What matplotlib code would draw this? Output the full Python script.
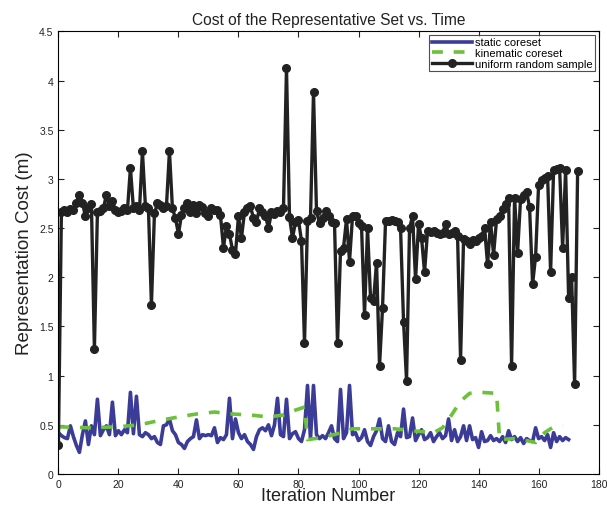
import matplotlib
matplotlib.use("Agg")
import matplotlib.pyplot as plt
from matplotlib.ticker import FuncFormatter

plt.rcParams['font.family'] = ['Liberation Sans', 'DejaVu Sans']

# uniform random sample, one value per iteration (0..173)
uniform = [0.30, 2.66, 2.68, 2.66, 2.69, 2.68, 2.76, 2.84, 2.76, 2.62,
           2.70, 2.74, 1.27, 2.66, 2.67, 2.70, 2.84, 2.72, 2.78, 2.68,
           2.66, 2.67, 2.70, 2.68, 3.11, 2.70, 2.72, 2.68, 3.28, 2.72,
           2.70, 1.72, 2.65, 2.75, 2.73, 2.70, 2.72, 3.28, 2.70, 2.60,
           2.44, 2.63, 2.70, 2.75, 2.66, 2.73, 2.65, 2.73, 2.71, 2.65,
           2.62, 2.70, 2.68, 2.68, 2.63, 2.30, 2.52, 2.44, 2.28, 2.24,
           2.62, 2.40, 2.66, 2.70, 2.72, 2.60, 2.56, 2.70, 2.66, 2.62,
           2.50, 2.66, 2.64, 2.67, 2.66, 2.70, 4.13, 2.61, 2.40, 2.56,
           2.58, 2.37, 1.33, 2.57, 2.60, 3.88, 2.67, 2.55, 2.60, 2.67,
           2.62, 2.56, 2.55, 1.33, 2.27, 2.30, 2.59, 2.16, 2.62, 2.62,
           2.55, 2.52, 1.62, 2.50, 1.79, 1.76, 2.15, 1.10, 1.69, 2.57,
           2.57, 2.58, 2.57, 2.56, 2.50, 1.55, 0.95, 2.50, 2.62, 1.98,
           2.54, 2.40, 2.05, 2.47, 2.46, 2.47, 2.45, 2.44, 2.45, 2.54,
           2.44, 2.45, 2.47, 2.42, 1.16, 2.39, 2.37, 2.34, 2.38, 2.37,
           2.40, 2.42, 2.50, 2.13, 2.56, 2.23, 2.59, 2.62, 2.69, 2.74,
           2.81, 1.10, 2.81, 2.25, 2.80, 2.84, 2.87, 2.71, 1.93, 2.21,
           2.94, 2.99, 3.01, 3.03, 2.05, 3.09, 3.10, 3.11, 2.30, 3.09,
           1.79, 2.00, 0.91, 3.08]

# static coreset, one value per iteration (0..170)
static = [0.42, 0.39, 0.37, 0.36, 0.49, 0.38, 0.29, 0.22, 0.40, 0.54,
          0.30, 0.49, 0.40, 0.76, 0.39, 0.45, 0.49, 0.40, 0.73, 0.39,
          0.44, 0.40, 0.45, 0.42, 0.83, 0.41, 0.79, 0.40, 0.38, 0.42,
          0.40, 0.36, 0.38, 0.32, 0.30, 0.49, 0.50, 0.56, 0.44, 0.40,
          0.32, 0.30, 0.26, 0.33, 0.36, 0.38, 0.55, 0.36, 0.40, 0.39,
          0.40, 0.39, 0.47, 0.32, 0.37, 0.35, 0.40, 0.77, 0.36, 0.56,
          0.42, 0.36, 0.40, 0.33, 0.30, 0.25, 0.38, 0.45, 0.47, 0.44,
          0.50, 0.39, 0.50, 0.77, 0.40, 0.38, 0.76, 0.36, 0.41, 0.43,
          0.36, 0.33, 0.45, 0.90, 0.36, 0.90, 0.40, 0.36, 0.39, 0.36,
          0.42, 0.49, 0.36, 0.33, 0.86, 0.36, 0.42, 0.90, 0.40, 0.42,
          0.34, 0.37, 0.45, 0.33, 0.29, 0.38, 0.44, 0.56, 0.36, 0.33,
          0.49, 0.33, 0.30, 0.42, 0.38, 0.66, 0.37, 0.38, 0.57, 0.34,
          0.40, 0.45, 0.35, 0.37, 0.42, 0.33, 0.38, 0.42, 0.36, 0.39,
          0.56, 0.34, 0.45, 0.33, 0.38, 0.49, 0.34, 0.49, 0.35, 0.37,
          0.27, 0.43, 0.33, 0.34, 0.39, 0.34, 0.36, 0.33, 0.38, 0.32,
          0.44, 0.35, 0.38, 0.33, 0.37, 0.31, 0.36, 0.34, 0.33, 0.47,
          0.36, 0.38, 0.34, 0.40, 0.27, 0.42, 0.33, 0.38, 0.34, 0.37,
          0.35]

# kinematic coreset, read at its breakpoints
kin_iter = [0, 10, 20, 27, 33, 40, 46, 52, 58, 64, 70, 75, 79, 82, 83,
            88, 93, 98, 105, 112, 118, 125, 128, 131, 134, 137, 141, 146,
            147, 152, 156, 159, 162, 165, 168]
kin_cost = [0.48, 0.47, 0.48, 0.50, 0.54, 0.58, 0.61, 0.63, 0.61, 0.60,
            0.58, 0.60, 0.65, 0.68, 0.35, 0.37, 0.41, 0.46, 0.46, 0.46,
            0.44, 0.42, 0.47, 0.60, 0.74, 0.82, 0.83, 0.82, 0.35, 0.36,
            0.34, 0.32, 0.42, 0.48, 0.49]

fig = plt.figure(figsize=(6.07, 5.10), dpi=100)
ax = fig.add_axes([0.0962, 0.0686, 0.89, 0.868])

ax.plot(range(len(static)), static, color='#3b3b98', lw=2.6,
        label='static coreset')
ax.plot(kin_iter, kin_cost, color='#6cc03a', lw=2.6, ls=(0, (3, 3)),
        label='kinematic coreset')
ax.plot(range(len(uniform)), uniform, color='#222222', lw=2.4, marker='o',
        ms=5.5, label='uniform random sample')

ax.set_xlim(0, 180)
ax.set_ylim(0, 4.5)
ax.set_xticks(range(0, 181, 20))
ax.set_yticks([i * 0.5 for i in range(10)])
ax.yaxis.set_major_formatter(FuncFormatter(lambda v, p: '%g' % v))
ax.tick_params(direction='in', top=True, right=True, labelsize=7.5,
               length=4, colors='#222222')

ax.set_title('Cost of the Representative Set vs. Time', fontsize=11.2,
             color='#222222', pad=5)
ax.set_xlabel('Iteration Number', fontsize=13, labelpad=-1, color='#222222')
ax.set_ylabel('Representation Cost (m)', fontsize=13.5, labelpad=4,
              color='#222222')

leg = ax.legend(loc='upper right', fontsize=8, frameon=True, fancybox=False,
                borderaxespad=0.3, handlelength=3.6, labelspacing=0.05,
                borderpad=0.25, handletextpad=0.3)
leg.get_frame().set_edgecolor('#222222')
leg.get_frame().set_linewidth(0.8)

fig.savefig('out.png', dpi=100)
